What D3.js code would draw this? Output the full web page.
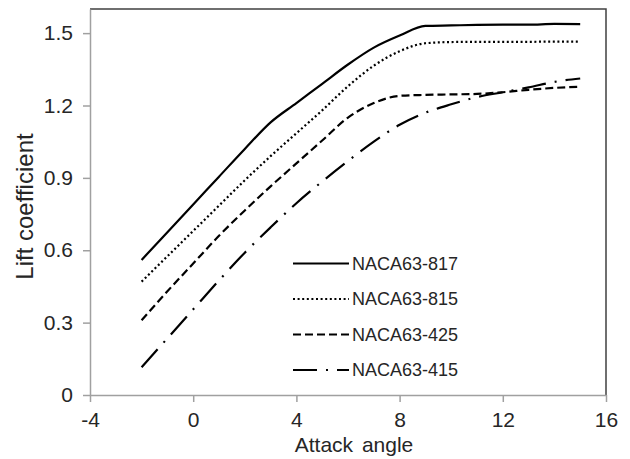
<!DOCTYPE html>
<html>
<head>
<meta charset="utf-8">
<script src="https://cdn.jsdelivr.net/npm/d3@7"></script>
<style>
	body { margin: 0; background: #fff; }
	svg text { font-family: "Liberation Sans", Arial, sans-serif; fill: #262626; }
</style>
</head>
<body>
<script>
/* data */
var angles = [-2, -1, 0, 1, 2, 3, 4, 5, 6, 7, 8, 9, 10, 11, 12, 13, 14, 15];
var cl817 = [0.56, 0.675, 0.79, 0.905, 1.02, 1.13, 1.21, 1.29, 1.37, 1.44, 1.49, 1.53, 1.532, 1.534, 1.535, 1.535, 1.538, 1.537];
var cl815 = [0.47, 0.575, 0.68, 0.785, 0.89, 0.99, 1.085, 1.18, 1.28, 1.365, 1.425, 1.458, 1.463, 1.464, 1.464, 1.464, 1.465, 1.465];
var cl425 = [0.31, 0.43, 0.545, 0.66, 0.765, 0.865, 0.96, 1.055, 1.15, 1.21, 1.24, 1.244, 1.246, 1.248, 1.255, 1.265, 1.273, 1.278];
var cl415 = [0.115, 0.235, 0.355, 0.475, 0.59, 0.695, 0.795, 0.885, 0.97, 1.05, 1.12, 1.17, 1.205, 1.235, 1.255, 1.275, 1.298, 1.312];
var names = ["NACA63-817", "NACA63-815", "NACA63-425", "NACA63-415"];
var xTicks = [-4, 0, 4, 8, 12, 16];
var xTickLabels = ["-4", "0", "4", "8", "12", "16"];
var yTicks = [0, 0.3, 0.6, 0.9, 1.2, 1.5];
var yTickLabels = ["0", "0.3", "0.6", "0.9", "1.2", "1.5"];

var width = 630;
var height = 459;
var margin = { top: 9, right: 24, bottom: 64, left: 90 };

var svg = d3.select("body")
	.append("svg")
	.attr("width", width)
	.attr("height", height);

var xScale = d3.scaleLinear().domain([-4, 16]).range([margin.left, width - margin.right]);
var yScale = d3.scaleLinear().domain([0, 1.6]).range([height - margin.bottom, margin.top]);

// frame on top and right is dark, the axes are grey
svg.append("path")
	.attr("d", "M" + xScale(-4) + "," + yScale(1.6) + "H" + xScale(16) + "V" + yScale(0))
	.attr("fill", "none")
	.attr("stroke", "#404040")
	.attr("stroke-width", 1.5);

// X Axis
var gX = svg.append("g")
	.attr("transform", "translate(0," + yScale(0) + ")")
	.call(d3.axisBottom(xScale).tickValues(xTicks).tickSize(7).tickPadding(10).tickSizeOuter(0)
		.tickFormat(function (d, i) { return xTickLabels[i]; }));

// Y Axis
var gY = svg.append("g")
	.attr("transform", "translate(" + xScale(-4) + ",0)")
	.call(d3.axisLeft(yScale).tickValues(yTicks).tickSize(7).tickPadding(10).tickSizeOuter(0)
		.tickFormat(function (d, i) { return yTickLabels[i]; }));

[gX, gY].forEach(function (g) {
	g.select(".domain").attr("stroke", "#a0a0a0").attr("stroke-width", 1.5);
	g.selectAll(".tick line").attr("stroke", "#a0a0a0").attr("stroke-width", 1.5);
	g.selectAll(".tick text").attr("font-size", "21px").attr("font-family", null).attr("fill", "#262626");
});

// axis titles
svg.append("text")
	.attr("text-anchor", "middle")
	.attr("x", 354)
	.attr("y", 452)
	.attr("font-size", "21px")
	.style("word-spacing", "3px")
	.text("Attack angle");

svg.append("text")
	.attr("text-anchor", "middle")
	.attr("transform", "translate(33," + 206.5 + ") rotate(-90)")
	.attr("font-size", "24px")
	.text("Lift coefficient");

// series
var series = [cl817, cl815, cl425, cl415];
var dashes = ["none", "2,2.6", "8,4", "24,9,2,9"];

var line = d3.line()
	.x(function (d) { return xScale(d.a); })
	.y(function (d) { return yScale(d.v); })
	.curve(d3.curveMonotoneX);

var lines = svg.append("g");
series.forEach(function (vals, i) {
	var pts = angles.map(function (a, j) { return { a: a, v: vals[j] }; });
	lines.append("path")
		.datum(pts)
		.attr("d", line)
		.attr("fill", "none")
		.attr("stroke", "#000")
		.attr("stroke-width", 2.2)
		.attr("stroke-dasharray", dashes[i]);
});

// legend
var legend = svg.append("g");
names.forEach(function (n, i) {
	var y = 263.5 + i * 35.5;
	legend.append("line")
		.attr("x1", 293)
		.attr("x2", 349)
		.attr("y1", y)
		.attr("y2", y)
		.attr("stroke", "#000")
		.attr("stroke-width", 2.2)
		.attr("stroke-dasharray", dashes[i]);
	legend.append("text")
		.attr("x", 352)
		.attr("y", y)
		.attr("dy", "0.35em")
		.attr("font-size", "18px")
		.text(n);
});
</script>
</body>
</html>
